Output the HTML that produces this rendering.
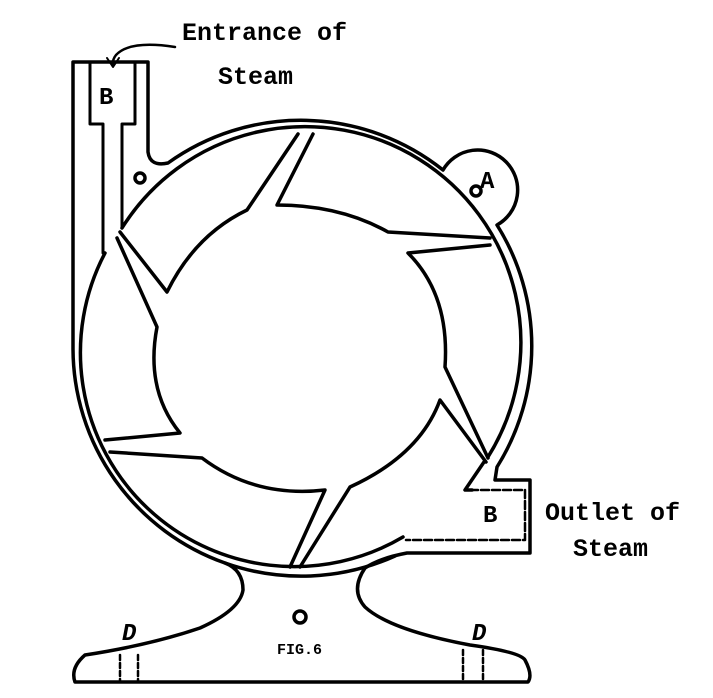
<!DOCTYPE html>
<html><head><style>body{margin:0;background:#fff}svg{display:block}</style></head><body>
<svg width="713" height="698" viewBox="0 0 713 698" xmlns="http://www.w3.org/2000/svg" fill="none" stroke="#000" stroke-width="3.5" stroke-linecap="round" stroke-linejoin="round">
<rect width="713" height="698" fill="#fff" stroke="none"/>
<!-- outer casing -->
<path d="M148 62 L148 152 Q150 167 168 163 A228 228 0 0 1 443 170 A40 40 0 1 1 497 225 A228 228 0 0 1 497 467 L495 480 L530 480 L530 553 L407 553 Q380 558 365 568 Q350 590 365 607 Q390 630 470 645 Q520 652 525 660 Q533 675 528 682 L75 682 Q70 668 85 655 Q150 645 200 628 Q240 610 243 590 Q243 570 225 563 A228 228 0 0 1 73 349 L73 62 L148 62"/>
<path d="M225 563 A228 228 0 0 0 395 556"/>
<circle cx="476" cy="191" r="5"/>
<circle cx="140" cy="178" r="5"/>
<!-- inner ring -->
<path d="M122 228 A214 214 0 0 1 488 457"/>
<path d="M403 537 A214 214 0 0 1 105 253"/>
<!-- pipe inner -->
<path d="M90 62 L90 124 L103 124 L103 253 M135 62 L135 124 L122 124 L122 228" stroke-width="3"/>
<!-- outlet inner -->
<path d="M470 490 L525 490 L525 540 L406 540" stroke-width="2.5" stroke-dasharray="8 3"/>
<!-- rotor / blades -->
<g stroke-width="3.5">
<path d="M298 134 L247 210 Q195 235 167 292 L120 232"/>
<path d="M117 238 L157 327 Q145 390 180 433 L105 440"/>
<path d="M110 452 L202 458 Q255 498 325 490 L290 567"/>
<path d="M300 567 L350 487 Q420 455 440 400 L486 462"/>
<path d="M488 458 L445 367 Q450 295 408 253 L490 245"/>
<path d="M490 238 L388 232 Q340 205 277 205 L313 134"/>
<path d="M484 462 L465 490 L472 490"/>
</g>
<!-- base details -->
<circle cx="300" cy="617" r="6"/>
<path d="M120 655 L120 682 M138 655 L138 682 M463 650 L463 682 M483 650 L483 682" stroke-width="2.5" stroke-dasharray="5 3"/>
<path d="M175 47 Q130 40 116 55 Q112 60 113 66" stroke-width="2.5"/>
<path d="M107 58 L113 67 L119 58" stroke-width="2"/>
<g stroke="none" fill="#000" font-family="Liberation Mono, monospace" font-weight="bold">
<text x="182" y="40" font-size="25">Entrance of</text>
<text x="218" y="84" font-size="25">Steam</text>
<text x="99" y="104" font-size="24">B</text>
<text x="480" y="188" font-size="24">A</text>
<text x="483" y="522" font-size="24">B</text>
<text x="545" y="520" font-size="25">Outlet of</text>
<text x="573" y="556" font-size="25">Steam</text>
<text x="122" y="640" font-size="24" font-style="italic">D</text>
<text x="472" y="640" font-size="24" font-style="italic">D</text>
<text x="277" y="654" font-size="15">FIG.6</text>
</g>
</svg>
</body></html>
